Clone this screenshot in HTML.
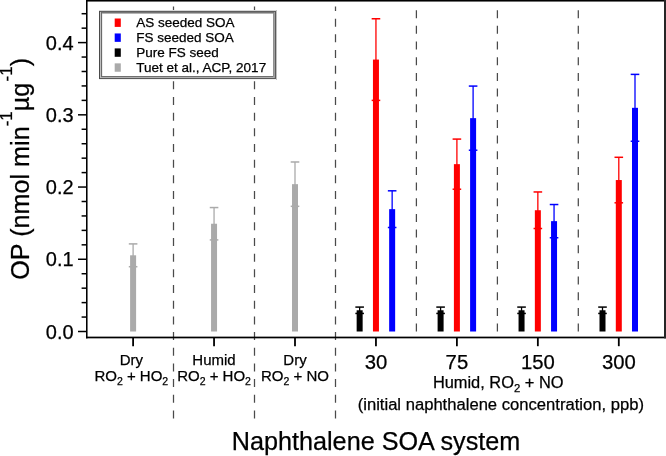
<!DOCTYPE html>
<html><head><meta charset="utf-8"><style>
html,body{margin:0;padding:0;background:#fff;}
svg{display:block;will-change:transform;}
text{font-family:"Liberation Sans", sans-serif;fill:#000;stroke:#000;stroke-width:0.25px;}
</style></head><body>
<svg width="666" height="456" viewBox="0 0 666 456">
<rect width="666" height="456" fill="#fff"/>
<line x1="173.5" y1="418.4" x2="173.5" y2="6.5" stroke="#4a4a4a" stroke-width="1.25" stroke-dasharray="8 7.67"/>
<line x1="254.5" y1="418.4" x2="254.5" y2="6.5" stroke="#4a4a4a" stroke-width="1.25" stroke-dasharray="8 7.67"/>
<line x1="335.5" y1="418.4" x2="335.5" y2="6.5" stroke="#4a4a4a" stroke-width="1.25" stroke-dasharray="8 7.67"/>
<line x1="416.4" y1="331.6" x2="416.4" y2="6.5" stroke="#4a4a4a" stroke-width="1.25" stroke-dasharray="8 7.67"/>
<line x1="497.4" y1="331.6" x2="497.4" y2="6.5" stroke="#4a4a4a" stroke-width="1.25" stroke-dasharray="8 7.67"/>
<line x1="578.3" y1="331.6" x2="578.3" y2="6.5" stroke="#4a4a4a" stroke-width="1.25" stroke-dasharray="8 7.67"/>
<rect x="130.10" y="255.30" width="6.0" height="76.20" fill="#aaaaaa"/>
<line x1="133.10" y1="243.89" x2="133.10" y2="266.71" stroke="#aaaaaa" stroke-width="1.3"/>
<line x1="128.80" y1="243.89" x2="137.40" y2="243.89" stroke="#aaaaaa" stroke-width="1.5"/>
<line x1="128.80" y1="266.71" x2="137.40" y2="266.71" stroke="#aaaaaa" stroke-width="1.5"/>
<rect x="211.05" y="223.74" width="6.0" height="107.76" fill="#aaaaaa"/>
<line x1="214.05" y1="207.56" x2="214.05" y2="239.92" stroke="#aaaaaa" stroke-width="1.3"/>
<line x1="209.75" y1="207.56" x2="218.35" y2="207.56" stroke="#aaaaaa" stroke-width="1.5"/>
<line x1="209.75" y1="239.92" x2="218.35" y2="239.92" stroke="#aaaaaa" stroke-width="1.5"/>
<rect x="292.00" y="184.16" width="6.0" height="147.34" fill="#aaaaaa"/>
<line x1="295.00" y1="161.99" x2="295.00" y2="206.33" stroke="#aaaaaa" stroke-width="1.3"/>
<line x1="290.70" y1="161.99" x2="299.30" y2="161.99" stroke="#aaaaaa" stroke-width="1.5"/>
<line x1="290.70" y1="206.33" x2="299.30" y2="206.33" stroke="#aaaaaa" stroke-width="1.5"/>
<rect x="356.65" y="310.27" width="6.0" height="21.23" fill="#000000"/>
<line x1="359.65" y1="307.09" x2="359.65" y2="313.44" stroke="#000000" stroke-width="1.3"/>
<line x1="355.35" y1="307.09" x2="363.95" y2="307.09" stroke="#000000" stroke-width="1.5"/>
<line x1="355.35" y1="313.44" x2="363.95" y2="313.44" stroke="#000000" stroke-width="1.5"/>
<rect x="372.95" y="59.57" width="6.0" height="271.93" fill="#ff0000"/>
<line x1="375.95" y1="18.77" x2="375.95" y2="100.38" stroke="#ff0000" stroke-width="1.3"/>
<line x1="371.65" y1="18.77" x2="380.25" y2="18.77" stroke="#ff0000" stroke-width="1.5"/>
<line x1="371.65" y1="100.38" x2="380.25" y2="100.38" stroke="#ff0000" stroke-width="1.5"/>
<rect x="389.15" y="209.15" width="6.0" height="122.35" fill="#0000ff"/>
<line x1="392.15" y1="190.81" x2="392.15" y2="227.50" stroke="#0000ff" stroke-width="1.3"/>
<line x1="387.85" y1="190.81" x2="396.45" y2="190.81" stroke="#0000ff" stroke-width="1.5"/>
<line x1="387.85" y1="227.50" x2="396.45" y2="227.50" stroke="#0000ff" stroke-width="1.5"/>
<rect x="437.60" y="310.27" width="6.0" height="21.23" fill="#000000"/>
<line x1="440.60" y1="307.09" x2="440.60" y2="313.44" stroke="#000000" stroke-width="1.3"/>
<line x1="436.30" y1="307.09" x2="444.90" y2="307.09" stroke="#000000" stroke-width="1.5"/>
<line x1="436.30" y1="313.44" x2="444.90" y2="313.44" stroke="#000000" stroke-width="1.5"/>
<rect x="453.90" y="164.15" width="6.0" height="167.35" fill="#ff0000"/>
<line x1="456.90" y1="139.09" x2="456.90" y2="189.22" stroke="#ff0000" stroke-width="1.3"/>
<line x1="452.60" y1="139.09" x2="461.20" y2="139.09" stroke="#ff0000" stroke-width="1.5"/>
<line x1="452.60" y1="189.22" x2="461.20" y2="189.22" stroke="#ff0000" stroke-width="1.5"/>
<rect x="470.10" y="118.15" width="6.0" height="213.35" fill="#0000ff"/>
<line x1="473.10" y1="86.08" x2="473.10" y2="150.22" stroke="#0000ff" stroke-width="1.3"/>
<line x1="468.80" y1="86.08" x2="477.40" y2="86.08" stroke="#0000ff" stroke-width="1.5"/>
<line x1="468.80" y1="150.22" x2="477.40" y2="150.22" stroke="#0000ff" stroke-width="1.5"/>
<rect x="518.55" y="310.27" width="6.0" height="21.23" fill="#000000"/>
<line x1="521.55" y1="307.09" x2="521.55" y2="313.44" stroke="#000000" stroke-width="1.3"/>
<line x1="517.25" y1="307.09" x2="525.85" y2="307.09" stroke="#000000" stroke-width="1.5"/>
<line x1="517.25" y1="313.44" x2="525.85" y2="313.44" stroke="#000000" stroke-width="1.5"/>
<rect x="534.85" y="210.23" width="6.0" height="121.27" fill="#ff0000"/>
<line x1="537.85" y1="191.96" x2="537.85" y2="228.51" stroke="#ff0000" stroke-width="1.3"/>
<line x1="533.55" y1="191.96" x2="542.15" y2="191.96" stroke="#ff0000" stroke-width="1.5"/>
<line x1="533.55" y1="228.51" x2="542.15" y2="228.51" stroke="#ff0000" stroke-width="1.5"/>
<rect x="551.05" y="221.14" width="6.0" height="110.36" fill="#0000ff"/>
<line x1="554.05" y1="204.53" x2="554.05" y2="237.75" stroke="#0000ff" stroke-width="1.3"/>
<line x1="549.75" y1="204.53" x2="558.35" y2="204.53" stroke="#0000ff" stroke-width="1.5"/>
<line x1="549.75" y1="237.75" x2="558.35" y2="237.75" stroke="#0000ff" stroke-width="1.5"/>
<rect x="599.50" y="310.27" width="6.0" height="21.23" fill="#000000"/>
<line x1="602.50" y1="307.09" x2="602.50" y2="313.44" stroke="#000000" stroke-width="1.3"/>
<line x1="598.20" y1="307.09" x2="606.80" y2="307.09" stroke="#000000" stroke-width="1.5"/>
<line x1="598.20" y1="313.44" x2="606.80" y2="313.44" stroke="#000000" stroke-width="1.5"/>
<rect x="615.80" y="180.04" width="6.0" height="151.46" fill="#ff0000"/>
<line x1="618.80" y1="157.29" x2="618.80" y2="202.80" stroke="#ff0000" stroke-width="1.3"/>
<line x1="614.50" y1="157.29" x2="623.10" y2="157.29" stroke="#ff0000" stroke-width="1.5"/>
<line x1="614.50" y1="202.80" x2="623.10" y2="202.80" stroke="#ff0000" stroke-width="1.5"/>
<rect x="632.00" y="107.82" width="6.0" height="223.68" fill="#0000ff"/>
<line x1="635.00" y1="74.38" x2="635.00" y2="141.26" stroke="#0000ff" stroke-width="1.3"/>
<line x1="630.70" y1="74.38" x2="639.30" y2="74.38" stroke="#0000ff" stroke-width="1.5"/>
<line x1="630.70" y1="141.26" x2="639.30" y2="141.26" stroke="#0000ff" stroke-width="1.5"/>
<rect x="86" y="0" width="580" height="1.56" fill="#000"/>
<rect x="86" y="0" width="1.56" height="338.34" fill="#000"/>
<rect x="86" y="336.63" width="580" height="1.71" fill="#000"/>
<rect x="664" y="0" width="2" height="338.34" fill="#262626"/>
<line x1="78" y1="331.50" x2="87" y2="331.50" stroke="#000" stroke-width="1.5"/>
<text x="73.6" y="338.70" font-size="20" text-anchor="end">0.0</text>
<line x1="81.6" y1="317.06" x2="87" y2="317.06" stroke="#000" stroke-width="1.5"/>
<line x1="81.6" y1="302.61" x2="87" y2="302.61" stroke="#000" stroke-width="1.5"/>
<line x1="81.6" y1="288.17" x2="87" y2="288.17" stroke="#000" stroke-width="1.5"/>
<line x1="81.6" y1="273.72" x2="87" y2="273.72" stroke="#000" stroke-width="1.5"/>
<line x1="78" y1="259.27" x2="87" y2="259.27" stroke="#000" stroke-width="1.5"/>
<text x="73.6" y="266.47" font-size="20" text-anchor="end">0.1</text>
<line x1="81.6" y1="244.83" x2="87" y2="244.83" stroke="#000" stroke-width="1.5"/>
<line x1="81.6" y1="230.38" x2="87" y2="230.38" stroke="#000" stroke-width="1.5"/>
<line x1="81.6" y1="215.94" x2="87" y2="215.94" stroke="#000" stroke-width="1.5"/>
<line x1="81.6" y1="201.50" x2="87" y2="201.50" stroke="#000" stroke-width="1.5"/>
<line x1="78" y1="187.05" x2="87" y2="187.05" stroke="#000" stroke-width="1.5"/>
<text x="73.6" y="194.25" font-size="20" text-anchor="end">0.2</text>
<line x1="81.6" y1="172.60" x2="87" y2="172.60" stroke="#000" stroke-width="1.5"/>
<line x1="81.6" y1="158.16" x2="87" y2="158.16" stroke="#000" stroke-width="1.5"/>
<line x1="81.6" y1="143.72" x2="87" y2="143.72" stroke="#000" stroke-width="1.5"/>
<line x1="81.6" y1="129.27" x2="87" y2="129.27" stroke="#000" stroke-width="1.5"/>
<line x1="78" y1="114.83" x2="87" y2="114.83" stroke="#000" stroke-width="1.5"/>
<text x="73.6" y="122.03" font-size="20" text-anchor="end">0.3</text>
<line x1="81.6" y1="100.38" x2="87" y2="100.38" stroke="#000" stroke-width="1.5"/>
<line x1="81.6" y1="85.93" x2="87" y2="85.93" stroke="#000" stroke-width="1.5"/>
<line x1="81.6" y1="71.49" x2="87" y2="71.49" stroke="#000" stroke-width="1.5"/>
<line x1="81.6" y1="57.05" x2="87" y2="57.05" stroke="#000" stroke-width="1.5"/>
<line x1="78" y1="42.60" x2="87" y2="42.60" stroke="#000" stroke-width="1.5"/>
<text x="73.6" y="49.80" font-size="20" text-anchor="end">0.4</text>
<line x1="81.6" y1="28.16" x2="87" y2="28.16" stroke="#000" stroke-width="1.5"/>
<line x1="81.6" y1="13.71" x2="87" y2="13.71" stroke="#000" stroke-width="1.5"/>
<line x1="133.10" y1="337" x2="133.10" y2="346.2" stroke="#000" stroke-width="1.8"/>
<line x1="214.05" y1="337" x2="214.05" y2="346.2" stroke="#000" stroke-width="1.8"/>
<line x1="295.00" y1="337" x2="295.00" y2="346.2" stroke="#000" stroke-width="1.8"/>
<line x1="375.95" y1="337" x2="375.95" y2="346.2" stroke="#000" stroke-width="1.8"/>
<line x1="456.90" y1="337" x2="456.90" y2="346.2" stroke="#000" stroke-width="1.8"/>
<line x1="537.85" y1="337" x2="537.85" y2="346.2" stroke="#000" stroke-width="1.8"/>
<line x1="618.80" y1="337" x2="618.80" y2="346.2" stroke="#000" stroke-width="1.8"/>
<text x="131.30" y="364.7" font-size="15" text-anchor="middle">Dry</text>
<text x="131.30" y="380.9" font-size="15" text-anchor="middle">RO<tspan font-size="10.5" dy="3.9">2</tspan><tspan dy="-3.9"> + HO</tspan><tspan font-size="10.5" dy="3.9">2</tspan></text>
<text x="214.05" y="364.7" font-size="15" text-anchor="middle">Humid</text>
<text x="214.05" y="380.9" font-size="15" text-anchor="middle">RO<tspan font-size="10.5" dy="3.9">2</tspan><tspan dy="-3.9"> + HO</tspan><tspan font-size="10.5" dy="3.9">2</tspan></text>
<text x="295.00" y="364.7" font-size="15" text-anchor="middle">Dry</text>
<text x="295.00" y="380.9" font-size="15" text-anchor="middle">RO<tspan font-size="10.5" dy="3.9">2</tspan><tspan dy="-3.9"> + NO</tspan></text>
<text x="375.95" y="369.1" font-size="20.3" text-anchor="middle">30</text>
<text x="456.90" y="369.1" font-size="20.3" text-anchor="middle">75</text>
<text x="537.85" y="369.1" font-size="20.3" text-anchor="middle">150</text>
<text x="618.80" y="369.1" font-size="20.3" text-anchor="middle">300</text>
<text x="498.2" y="387.8" font-size="16.4" text-anchor="middle">Humid, RO<tspan font-size="11.3" dy="4.1">2</tspan><tspan dy="-4.1"> + NO</tspan></text>
<text x="500.8" y="409.7" font-size="16.63" text-anchor="middle">(initial naphthalene concentration, ppb)</text>
<text x="231.8" y="450.2" font-size="25.2">Naphthalene SOA system</text>
<text transform="translate(28.9,279.8) rotate(-90)" font-size="25.2">OP (nmol min<tspan font-size="17" dy="-17">-1</tspan><tspan dy="17">µg</tspan><tspan font-size="17" dx="1.2" dy="-17">-1</tspan><tspan dy="17">)</tspan></text>
<rect x="99" y="10" width="178" height="70" fill="#fff"/>
<rect x="99" y="10" width="178" height="1" fill="#d8d8d8"/>
<rect x="99" y="11" width="177" height="1" fill="#5f5f5f"/>
<rect x="100" y="12" width="175" height="1" fill="#757575"/>
<rect x="101" y="13" width="173" height="1" fill="#b4b4b4"/>
<rect x="101" y="76" width="173" height="1" fill="#707070"/>
<rect x="100" y="77" width="175" height="1" fill="#b0b0b0"/>
<rect x="99" y="78" width="177" height="1" fill="#5a5a5a"/>
<rect x="99" y="79" width="178" height="1" fill="#f0f0f0"/>
<rect x="99" y="11" width="1" height="68" fill="#4a4a4a"/>
<rect x="100" y="12" width="1" height="66" fill="#c0c0c0"/>
<rect x="101" y="12" width="1" height="65" fill="#6a6a6a"/>
<rect x="102" y="14" width="1" height="62" fill="#ececec"/>
<rect x="273" y="13" width="1" height="64" fill="#909090"/>
<rect x="274" y="12" width="1" height="66" fill="#a0a0a0"/>
<rect x="275" y="11" width="1" height="68" fill="#5a5a5a"/>
<rect x="276" y="10" width="1" height="70" fill="#c0c0c0"/>
<rect x="114.7" y="18.50" width="6.1" height="8.4" fill="#ff0000"/>
<text x="136.3" y="26.90" font-size="13.5">AS seeded SOA</text>
<rect x="114.7" y="33.45" width="6.1" height="8.4" fill="#0000ff"/>
<text x="136.3" y="41.85" font-size="13.5">FS seeded SOA</text>
<rect x="114.7" y="48.40" width="6.1" height="8.4" fill="#000000"/>
<text x="136.3" y="56.80" font-size="13.5">Pure FS seed</text>
<rect x="114.7" y="63.35" width="6.1" height="8.4" fill="#aaaaaa"/>
<text x="136.3" y="71.75" font-size="13.5">Tuet et al., ACP, 2017</text>
</svg>
</body></html>
